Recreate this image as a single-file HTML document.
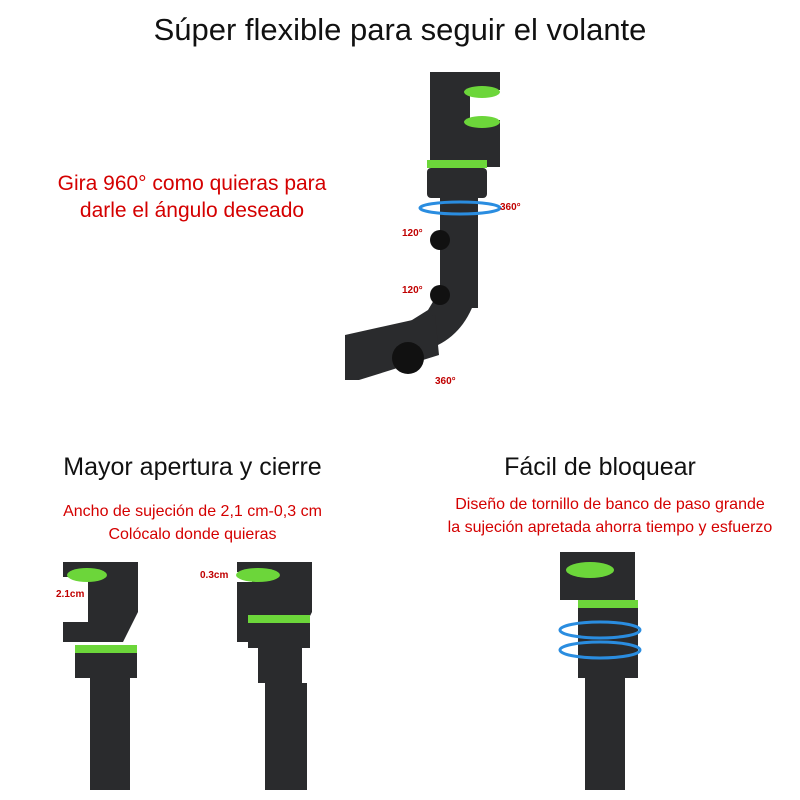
<!DOCTYPE html>
<html><head><meta charset="utf-8"><style>
body{margin:0;width:800px;height:800px;background:#fff;position:relative;overflow:hidden;font-family:"Liberation Sans",sans-serif}
.t{position:absolute;text-align:center;white-space:nowrap}
.r{color:#d40000}
</style></head><body>
<div class="t" style="left:0;width:800px;top:12px;font-size:31px;color:#111">Súper flexible para seguir el volante</div>
<div class="t r" style="left:22px;width:340px;top:170px;font-size:21px;line-height:27px">Gira 960° como quieras para<br>darle el ángulo deseado</div>
<div class="t" style="left:0;width:385px;top:453px;font-size:25px;color:#111">Mayor apertura y cierre</div>
<div class="t" style="left:400px;width:400px;top:453px;font-size:25px;color:#111">Fácil de bloquear</div>
<div class="t r" style="left:0;width:385px;top:500px;font-size:16px;line-height:23px">Ancho de sujeción de 2,1 cm-0,3 cm<br>Colócalo donde quieras</div>
<div class="t r" style="left:410px;width:400px;top:493px;font-size:16px;line-height:23px">Diseño de tornillo de banco de paso grande<br>la sujeción apretada ahorra tiempo y esfuerzo</div>
<svg width="800" height="800" style="position:absolute;left:0;top:0">
<g fill="#2a2b2d">
<!-- main device -->
<rect x="430" y="72" width="70" height="18"/>
<rect x="430" y="72" width="40" height="95"/>
<rect x="430" y="120" width="70" height="47"/>
<rect x="427" y="160" width="60" height="8" fill="#6cd63a"/>
<rect x="427" y="168" width="60" height="30" rx="4"/>
<rect x="440" y="198" width="38" height="110"/>
<path d="M440 290l38 0q-10 40-40 55l-30 20-20-30 40-25z"/>
<path d="M345 335l90-20 4 40-80 25-14 0z"/>
<circle cx="408" cy="358" r="16" fill="#111"/>
<circle cx="440" cy="240" r="10" fill="#111"/>
<circle cx="440" cy="295" r="10" fill="#111"/>
<!-- bottom left 1 -->
<path d="M63 562h75v50l-15 30h-60v-20h25v-45h-25z"/>
<rect x="75" y="645" width="62" height="8" fill="#6cd63a"/>
<rect x="75" y="653" width="62" height="25"/>
<rect x="90" y="678" width="40" height="112"/>
<!-- bottom left 2 -->
<path d="M237 562h75v50l-15 30h-60v-60h15v-10h-15z"/>
<rect x="248" y="615" width="62" height="8" fill="#6cd63a"/>
<rect x="248" y="623" width="62" height="25"/>
<rect x="258" y="648" width="44" height="35"/>
<rect x="265" y="683" width="42" height="107"/>
<!-- bottom right -->
<rect x="560" y="552" width="75" height="48"/>
<rect x="578" y="600" width="60" height="8" fill="#6cd63a"/>
<rect x="578" y="608" width="60" height="70"/>
<rect x="585" y="678" width="40" height="112"/>
</g>
<g fill="#6cd63a">
<ellipse cx="482" cy="92" rx="18" ry="6"/><ellipse cx="482" cy="122" rx="18" ry="6"/>
<ellipse cx="87" cy="575" rx="20" ry="7"/><ellipse cx="258" cy="575" rx="22" ry="7"/>
<ellipse cx="590" cy="570" rx="24" ry="8"/>
</g>
<g fill="none" stroke="#2a8de0" stroke-width="3">
<ellipse cx="460" cy="208" rx="40" ry="6"/>
<ellipse cx="600" cy="630" rx="40" ry="8"/><ellipse cx="600" cy="650" rx="40" ry="8"/>
</g>
<g font-size="10" font-weight="bold" fill="#c00000">
<text x="500" y="210">360°</text><text x="402" y="236">120°</text><text x="402" y="293">120°</text><text x="435" y="384">360°</text>
<text x="56" y="597">2.1cm</text><text x="200" y="578">0.3cm</text>
</g>
</svg>
</body></html>
